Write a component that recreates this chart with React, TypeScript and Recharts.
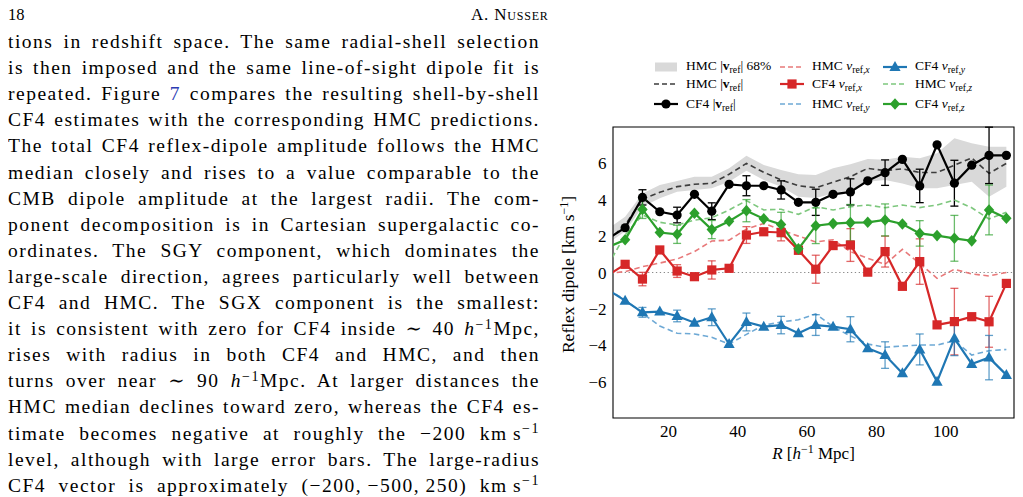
import React from 'react'
import {
  ComposedChart, Line, Area, XAxis, YAxis, ErrorBar, ReferenceLine, ReferenceArea, Legend, Label,
} from 'recharts'

const SERIF = "'Liberation Serif', 'DejaVu Serif', serif"

// shell centres [h^-1 Mpc]
const R = [2.5, 7.5, 12.5, 17.5, 22.5, 27.5, 32.5, 37.5, 42.5, 47.5, 52.5, 57.5, 62.5, 67.5, 72.5, 77.5, 82.5, 87.5, 92.5, 97.5, 102.5, 107.5, 112.5, 117.5]

// HMC |v_ref| median and 68% band
const HMC_BAND_LO = [1.6, 2.25, 3.62, 4.08, 4.44, 4.54, 4.63, 4.99, 5.6, 5.09, 4.72, 4.17, 4.1, 4.35, 4.54, 4.99, 5.08, 4.9, 4.63, 4.63, 4.81, 4.99, 4.17, 4.72]
const HMC_BAND_HI = [2.4, 3.07, 4.35, 4.81, 5.03, 5.27, 5.27, 5.73, 6.42, 5.91, 5.63, 5.4, 5.36, 5.73, 5.95, 6.24, 6.2, 6.37, 6.28, 6.55, 7.38, 7.1, 6.92, 6.92]
const HMC_MAG = [1.76, 2.61, 4.04, 4.41, 4.72, 4.85, 4.9, 5.4, 6.0, 5.51, 5.09, 4.77, 4.66, 4.96, 5.27, 5.73, 5.6, 5.7, 5.5, 5.5, 5.9, 6.3, 5.45, 6.0]
const CF4_MAG = [1.85, 2.46, 4.13, 3.34, 3.16, 4.3, 3.37, 4.85, 4.77, 4.77, 4.54, 3.86, 3.86, 4.3, 4.43, 5.04, 5.49, 6.22, 4.76, 7.02, 4.91, 5.9, 6.44, 6.44]
const CF4_MAG_ERR = [null, null, 0.42, null, 0.43, null, 0.46, null, 0.55, null, 0.5, null, 0.72, null, 0.72, null, 0.7, null, 0.92, null, 1.26, null, 1.55, null]

// x component
const HMC_X = [-0.05, 0.05, 0.32, 0.52, 0.74, 1.15, 1.73, 1.78, 2.38, 2.7, 2.34, 2.0, 1.68, 1.8, 1.15, 0.78, 0.45, 1.27, 0.5, -0.32, 0.18, -0.08, -0.19, 0.0]
const CF4_X = [-0.15, 0.45, -0.36, 1.24, 0.08, -0.23, 0.14, 0.23, 2.06, 2.24, 2.2, 1.22, 0.18, 1.48, 1.51, 0.02, 1.15, -0.76, 0.6, -2.88, -2.7, -2.43, -2.71, -0.6]
const CF4_X_ERR = [null, null, 0.37, null, 0.35, null, 0.5, null, 0.46, null, 0.46, null, 0.77, null, 0.9, null, 0.85, null, 1.25, null, 1.83, null, 1.4, null]

// y component
const HMC_Y = [-0.95, -1.5, -2.24, -2.94, -3.34, -3.38, -3.56, -3.93, -3.4, -2.9, -2.72, -2.6, -2.28, -2.98, -3.49, -3.93, -4.11, -4.04, -3.99, -3.99, -3.75, -4.54, -4.3, -4.23]
const CF4_Y = [-0.95, -1.55, -2.19, -2.15, -2.39, -2.76, -2.46, -3.93, -2.72, -2.98, -2.89, -3.34, -2.89, -2.98, -3.12, -4.17, -4.54, -5.54, -4.23, -6.0, -3.62, -5.03, -4.68, -5.63]
const CF4_Y_ERR = [null, null, 0.27, null, 0.32, null, 0.46, null, 0.49, null, 0.48, null, 0.57, null, 0.69, null, 0.73, null, 0.85, null, 0.95, null, 1.22, null]

// z component
const HMC_Z = [0.38, 2.06, 3.16, 2.76, 2.61, 2.88, 3.01, 3.44, 3.95, 3.44, 3.48, 3.2, 3.62, 3.44, 3.62, 3.71, 3.56, 3.71, 3.57, 3.71, 3.99, 3.56, 2.94, 3.31]
const CF4_Z = [1.39, 1.8, 3.47, 2.2, 2.1, 3.26, 2.36, 2.82, 3.4, 2.95, 2.64, 1.3, 2.57, 2.69, 2.74, 2.76, 2.89, 2.67, 2.15, 2.03, 1.88, 1.74, 3.44, 2.98]
const CF4_Z_ERR = [null, null, 0.5, null, 0.5, null, 0.5, null, 0.61, null, 0.67, null, 0.98, null, 1.0, null, 0.88, null, 0.7, null, 1.26, null, 1.37, null]

const X_DOMAIN = [4, 119.7]
const Y_DOMAIN = [-8, 8]
const X_MAJOR = [20, 40, 60, 80, 100]
const X_MINOR = [5, 10, 15, 25, 30, 35, 45, 50, 55, 65, 70, 75, 85, 90, 95, 105, 110, 115]
const Y_MAJOR = [-6, -4, -2, 0, 2, 4, 6]
const Y_MINOR = [-7.5, -7, -6.5, -5.5, -5, -4.5, -3.5, -3, -2.5, -1.5, -1, -0.5, 0.5, 1, 1.5, 2.5, 3, 3.5, 4.5, 5, 5.5, 6.5, 7, 7.5]

const RED = '#d62728'
const BLUE = '#1f77b4'
const GREEN = '#2ca02c'
const RED_L = '#e8797a'
const BLUE_L = '#6ea9d5'
const GREEN_L = '#7dc77d'
const GREY_BAND = '#d9d9d9'
const DASH_BLACK = '#3d3d3d'

const rows = R.map((r, i) => ({
  r,
  band: [HMC_BAND_LO[i], HMC_BAND_HI[i]],
  hmcMag: HMC_MAG[i], cf4Mag: CF4_MAG[i], cf4MagErr: CF4_MAG_ERR[i],
  hmcX: HMC_X[i], cf4X: CF4_X[i], cf4XErr: CF4_X_ERR[i],
  hmcY: HMC_Y[i], cf4Y: CF4_Y[i], cf4YErr: CF4_Y_ERR[i],
  hmcZ: HMC_Z[i], cf4Z: CF4_Z[i], cf4ZErr: CF4_Z_ERR[i],
}))

// marker shapes
function Marker({ kind, cx, cy, color }: { kind: string; cx: number; cy: number; color: string }) {
  if (kind === 'circle') return <circle cx={cx} cy={cy} r={4.6} fill={color} />
  if (kind === 'square') return <rect x={cx - 4.6} y={cy - 4.6} width={9.2} height={9.2} fill={color} />
  if (kind === 'triangle') return <polygon points={`${cx},${cy - 6} ${cx - 5.6},${cy + 4} ${cx + 5.6},${cy + 4}`} fill={color} />
  return <polygon points={`${cx},${cy - 5.8} ${cx + 5.2},${cy} ${cx},${cy + 5.8} ${cx - 5.2},${cy}`} fill={color} />
}

const dotOf = (kind: string, color: string) => (p: any) => {
  if (p.cx == null || p.cy == null) return <g key={`d-${p.index}`} />
  return <g key={`d-${p.index}`}><Marker kind={kind} cx={p.cx} cy={p.cy} color={color} /></g>
}

const Sub = ({ children }: { children: React.ReactNode }) => (
  <span style={{ fontSize: '0.72em', position: 'relative', top: '0.32em' }}>{children}</span>
)
const Sup = ({ children }: { children: React.ReactNode }) => (
  <span style={{ fontSize: '0.72em', position: 'relative', top: '-0.45em' }}>{children}</span>
)

type LegendItem = { kind: 'band' | 'dash' | 'solid'; color: string; marker?: string; label: React.ReactNode }

const LEGEND_ITEMS: LegendItem[] = [
  { kind: 'band', color: GREY_BAND, label: <>HMC |<b>v</b><Sub>ref</Sub>| 68%</> },
  { kind: 'dash', color: DASH_BLACK, label: <>HMC |<b>v</b><Sub>ref</Sub>|</> },
  { kind: 'solid', color: '#000', marker: 'circle', label: <>CF4 |<b>v</b><Sub>ref</Sub>|</> },
  { kind: 'dash', color: RED_L, label: <>HMC <i>v</i><Sub>ref,<i>x</i></Sub></> },
  { kind: 'solid', color: RED, marker: 'square', label: <>CF4 <i>v</i><Sub>ref,<i>x</i></Sub></> },
  { kind: 'dash', color: BLUE_L, label: <>HMC <i>v</i><Sub>ref,<i>y</i></Sub></> },
  { kind: 'solid', color: BLUE, marker: 'triangle', label: <>CF4 <i>v</i><Sub>ref,<i>y</i></Sub></> },
  { kind: 'dash', color: GREEN_L, label: <>HMC <i>v</i><Sub>ref,<i>z</i></Sub></> },
  { kind: 'solid', color: GREEN, marker: 'diamond', label: <>CF4 <i>v</i><Sub>ref,<i>z</i></Sub></> },
]

const LEGEND_COLS = [116, 242, 345]
const LEGEND_ROWS = [18.7, 36.3, 56]

function LegendContent() {
  return (
    <div style={{ position: 'relative', width: 490, height: 70, fontFamily: SERIF, fontSize: 13.5, color: '#000' }}>
      {LEGEND_ITEMS.map((it, i) => {
        const left = LEGEND_COLS[Math.floor(i / 3)]
        const top = LEGEND_ROWS[i % 3]
        return (
          <div key={i} style={{ position: 'absolute', left, top: top - 8, height: 16, display: 'flex', alignItems: 'center', whiteSpace: 'nowrap' }}>
            <svg width={24} height={16} style={{ display: 'block' }}>
              {it.kind === 'band' && <rect x={1} y={3.5} width={22} height={9} fill={it.color} />}
              {it.kind === 'dash' && <line x1={0} x2={24} y1={8} y2={8} stroke={it.color} strokeWidth={1.6} strokeDasharray="5 3" />}
              {it.kind === 'solid' && <line x1={0} x2={24} y1={8} y2={8} stroke={it.color} strokeWidth={2.2} />}
              {it.kind === 'solid' && <Marker kind={it.marker!} cx={12} cy={8} color={it.color} />}
            </svg>
            <span style={{ marginLeft: 8, lineHeight: '16px' }}>{it.label}</span>
          </div>
        )
      })}
    </div>
  )
}

const XLabel = (props: any) => {
  const vb = props.viewBox || { x: 75, y: 370, width: 401, height: 70 }
  return (
    <text x={vb.x + vb.width / 2} y={vb.y + 41} textAnchor="middle" fontSize={17} fontFamily={SERIF} fill="#000">
      <tspan fontStyle="italic">R</tspan>
      <tspan> [</tspan>
      <tspan fontStyle="italic">h</tspan>
      <tspan dy={-6} fontSize={12}>−1</tspan>
      <tspan dy={6}> Mpc]</tspan>
    </text>
  )
}

const YLabel = (props: any) => {
  const vb = props.viewBox || { x: 0, y: 79, width: 75, height: 291 }
  const x = vb.x + 35.5
  const y = vb.y + vb.height / 2 + 2
  return (
    <text x={x} y={y} transform={`rotate(-90, ${x}, ${y})`} textAnchor="middle" fontSize={17.5} fontFamily={SERIF} fill="#000">
      <tspan>Reflex dipole [km s</tspan>
      <tspan dy={-6} fontSize={12}>−1</tspan>
      <tspan dy={6}>]</tspan>
    </text>
  )
}

const fmtY = (v: number) => (v < 0 ? `−${-v}` : `${v}`)

const tickOnly = {
  type: 'number' as const,
  allowDataOverflow: true,
  mirror: true,
  tick: false,
  axisLine: false,
  interval: 0 as const,
  tickLine: { stroke: '#000', strokeWidth: 0.9 },
}

function DipoleChart() {
  const tickFont = { fill: '#000', fontSize: 17, fontFamily: SERIF }
  return (
    <ComposedChart width={490} height={440} data={rows} margin={{ top: 79, right: 14, bottom: 0, left: 0 }}>
      <XAxis xAxisId="x" dataKey="r" type="number" domain={X_DOMAIN} allowDataOverflow ticks={X_MAJOR} interval={0}
        tickLine={false} axisLine={false} tickSize={0} tickMargin={6.5} height={70} tick={tickFont}>
        <Label content={XLabel} />
      </XAxis>
      <YAxis yAxisId="y" type="number" domain={Y_DOMAIN} allowDataOverflow ticks={Y_MAJOR} interval={0}
        tickLine={false} axisLine={false} tickSize={0} tickMargin={6.5} width={75} tick={tickFont} tickFormatter={fmtY}>
        <Label content={YLabel} />
      </YAxis>

      {/* inward ticks on all four sides */}
      <XAxis xAxisId="bMin" orientation="bottom" domain={X_DOMAIN} ticks={X_MINOR} tickSize={4} {...tickOnly} />
      <XAxis xAxisId="bMaj" orientation="bottom" domain={X_DOMAIN} ticks={X_MAJOR} tickSize={7} {...tickOnly} />
      <XAxis xAxisId="tMin" orientation="top" domain={X_DOMAIN} ticks={X_MINOR} tickSize={4} {...tickOnly} />
      <XAxis xAxisId="tMaj" orientation="top" domain={X_DOMAIN} ticks={X_MAJOR} tickSize={7} {...tickOnly} />
      <YAxis yAxisId="lMin" orientation="left" domain={Y_DOMAIN} ticks={Y_MINOR} tickSize={4} {...tickOnly} />
      <YAxis yAxisId="lMaj" orientation="left" domain={Y_DOMAIN} ticks={Y_MAJOR} tickSize={7} {...tickOnly} />
      <YAxis yAxisId="rMin" orientation="right" domain={Y_DOMAIN} ticks={Y_MINOR} tickSize={4} {...tickOnly} />
      <YAxis yAxisId="rMaj" orientation="right" domain={Y_DOMAIN} ticks={Y_MAJOR} tickSize={7} {...tickOnly} />

      <Legend content={<LegendContent />} layout="horizontal" verticalAlign="middle" align="center"
        wrapperStyle={{ left: 0, top: 0, width: 490, height: 70 }} />

      <Area xAxisId="x" yAxisId="y" type="linear" dataKey="band" fill={GREY_BAND} fillOpacity={1} stroke="none" isAnimationActive={false} />
      <ReferenceLine xAxisId="x" yAxisId="y" y={0} stroke="#8a8a8a" strokeWidth={1.2} strokeDasharray="1.3 2.6" />

      <Line xAxisId="x" yAxisId="y" type="linear" dataKey="hmcMag" stroke={DASH_BLACK} strokeWidth={1.6} strokeDasharray="5.5 3.5" dot={false} isAnimationActive={false} />
      <Line xAxisId="x" yAxisId="y" type="linear" dataKey="cf4Mag" stroke="#000" strokeWidth={2.2} dot={dotOf('circle', '#000')} isAnimationActive={false}>
        <ErrorBar dataKey="cf4MagErr" direction="y" width={4} stroke="#000" strokeWidth={1.3} />
      </Line>

      <Line xAxisId="x" yAxisId="y" type="linear" dataKey="hmcX" stroke={RED_L} strokeWidth={1.6} strokeDasharray="5.5 3.5" dot={false} isAnimationActive={false} />
      <Line xAxisId="x" yAxisId="y" type="linear" dataKey="cf4X" stroke={RED} strokeWidth={2.2} dot={dotOf('square', RED)} isAnimationActive={false}>
        <ErrorBar dataKey="cf4XErr" direction="y" width={4} stroke={RED} strokeOpacity={0.7} strokeWidth={1.3} />
      </Line>

      <Line xAxisId="x" yAxisId="y" type="linear" dataKey="hmcY" stroke={BLUE_L} strokeWidth={1.6} strokeDasharray="5.5 3.5" dot={false} isAnimationActive={false} />
      <Line xAxisId="x" yAxisId="y" type="linear" dataKey="cf4Y" stroke={BLUE} strokeWidth={2.2} dot={dotOf('triangle', BLUE)} isAnimationActive={false}>
        <ErrorBar dataKey="cf4YErr" direction="y" width={4} stroke={BLUE} strokeOpacity={0.7} strokeWidth={1.3} />
      </Line>

      <Line xAxisId="x" yAxisId="y" type="linear" dataKey="hmcZ" stroke={GREEN_L} strokeWidth={1.6} strokeDasharray="5.5 3.5" dot={false} isAnimationActive={false} />
      <Line xAxisId="x" yAxisId="y" type="linear" dataKey="cf4Z" stroke={GREEN} strokeWidth={2.2} dot={dotOf('diamond', GREEN)} isAnimationActive={false}>
        <ErrorBar dataKey="cf4ZErr" direction="y" width={4} stroke={GREEN} strokeOpacity={0.7} strokeWidth={1.3} />
      </Line>

      <ReferenceArea xAxisId="x" yAxisId="y" x1={X_DOMAIN[0]} x2={X_DOMAIN[1]} y1={Y_DOMAIN[0]} y2={Y_DOMAIN[1]}
        fill="none" stroke="#000" strokeWidth={1.1} ifOverflow="visible" />
    </ComposedChart>
  )
}

const LINK = '#2b3bb3'
const h = <i>h</i>
const KMS = <>km{'\u202F'}s<Sup>−1</Sup></>

const TEXT_LINES: React.ReactNode[] = [
  <>tions in redshift space.  The same radial-shell selection</>,
  <>is then imposed and the same line-of-sight dipole fit is</>,
  <>repeated. Figure <span style={{ color: LINK }}>7</span> compares the resulting shell-by-shell</>,
  <>CF4 estimates with the corresponding HMC predictions.</>,
  <>The total CF4 reflex-dipole amplitude follows the HMC</>,
  <>median closely and rises to a value comparable to the</>,
  <>CMB dipole amplitude at the largest radii.  The com-</>,
  <>ponent decomposition is in Cartesian supergalactic co-</>,
  <>ordinates.  The SGY component, which dominates the</>,
  <>large-scale direction, agrees particularly well between</>,
  <>CF4 and HMC. The SGX component is the smallest:</>,
  <>it is consistent with zero for CF4 inside ∼ 40 {h}<Sup>−1</Sup>Mpc,</>,
  <>rises with radius in both CF4 and HMC, and then</>,
  <>turns over near ∼ 90 {h}<Sup>−1</Sup>Mpc.  At larger distances the</>,
  <>HMC median declines toward zero, whereas the CF4 es-</>,
  <>timate becomes negative at roughly the −200 {KMS}</>,
  <>level, although with large error bars.  The large-radius</>,
  <>CF4 vector is approximately (−200,{'\u202F'}−500,{'\u202F'}250) {KMS}</>,
]

export default function App() {
  return (
    <div style={{ position: 'relative', width: 1007, height: 489, fontFamily: SERIF, color: '#000' }}>
      <div style={{ position: 'absolute', left: 0, top: -3.5, fontSize: 16.5, lineHeight: '20px' }}>18</div>
      <div style={{ position: 'absolute', left: 463, top: -3.5, fontSize: 17, lineHeight: '20px', fontVariant: 'small-caps', letterSpacing: 0.8 }}>
        A. Nusser
      </div>

      {TEXT_LINES.map((ln, i) => (
        <div key={i} style={{
          position: 'absolute', left: 0, top: 21 + i * 26.1, width: 532,
          fontSize: 19.5, lineHeight: '26px', letterSpacing: 1.5,
          textAlign: 'justify', textAlignLast: 'justify' as any,
        }}>
          {ln}
        </div>
      ))}

      <div style={{ position: 'absolute', left: 530, top: 40 }}>
        <DipoleChart />
      </div>
    </div>
  )
}
